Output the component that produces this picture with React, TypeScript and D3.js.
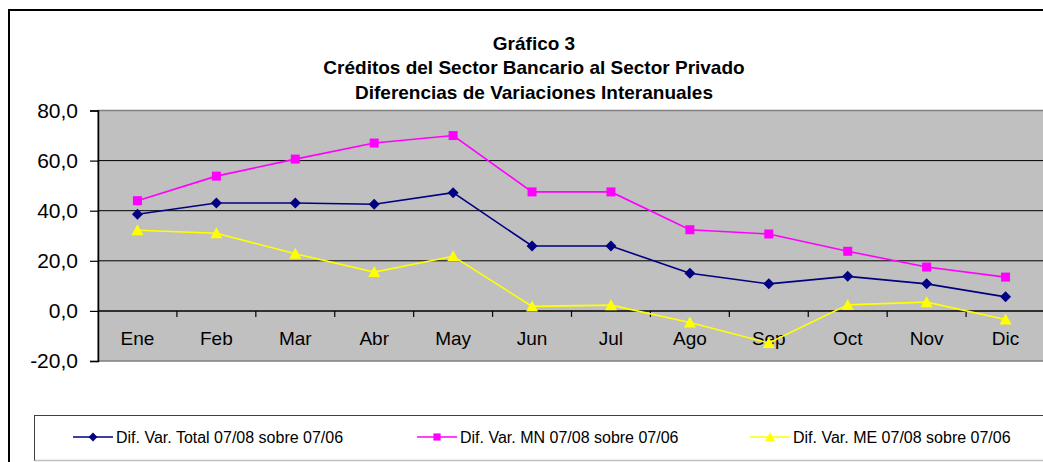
import { useRef, useEffect } from 'react';
import * as d3 from 'd3';

const months = ['Ene', 'Feb', 'Mar', 'Abr', 'May', 'Jun', 'Jul', 'Ago', 'Sep', 'Oct', 'Nov', 'Dic'];
const totalVals = [38.6, 43.1, 43.1, 42.6, 47.2, 25.9, 25.9, 15.0, 10.8, 13.8, 10.8, 5.6];
const mnVals = [44.0, 53.8, 60.6, 67.0, 70.0, 47.5, 47.5, 32.4, 30.7, 23.8, 17.5, 13.5];
const meVals = [32.2, 31.0, 22.8, 15.5, 21.8, 1.8, 2.3, -4.6, -12.8, 2.4, 3.5, -3.4];
const yTicks = [-20, 0, 20, 40, 60, 80];
const titleLines = [
    'Gráfico 3',
    'Créditos del Sector Bancario al Sector Privado',
    'Diferencias de Variaciones Interanuales',
];

const seriesList = [
    { name: 'Dif. Var. Total 07/08 sobre 07/06', values: totalVals, color: '#000080', marker: 'diamond' },
    { name: 'Dif. Var. MN 07/08 sobre 07/06', values: mnVals, color: '#FF00FF', marker: 'square' },
    { name: 'Dif. Var. ME 07/08 sobre 07/06', values: meVals, color: '#FFFF00', marker: 'triangle' },
];

const FONT = '"Liberation Sans", Arial, sans-serif';

function markerPath(kind: string): string {
    if (kind === 'diamond') return 'M0,-5.5L5.5,0L0,5.5L-5.5,0Z';
    if (kind === 'square') return 'M-4.5,-4.5H4.5V4.5H-4.5Z';
    return 'M0,-6L6,5H-6Z';
}

export default function App() {
    const svgRef = useRef<SVGSVGElement>(null);

    useEffect(() => {
        if (!svgRef.current) return;
        const width = 1043;
        const height = 462;
        const svg = d3.select(svgRef.current);
        svg.selectAll('*').remove();
        svg.attr('width', width).attr('height', height);

        const left = 98, right = 1045, top = 110.5, bottom = 361;

        const x = d3.scaleBand<string>().domain(months).range([left, right]).padding(0);
        const y = d3.scaleLinear().domain([-20, 80]).range([bottom, top]);
        const cx = (m: string) => (x(m) ?? 0) + x.bandwidth() / 2;

        svg.append('rect').attr('width', width).attr('height', height).attr('fill', 'white');

        // outer chart frame
        svg.append('path')
            .attr('d', `M9,${height + 5}V10H${width + 5}`)
            .attr('fill', 'none')
            .attr('stroke', '#000')
            .attr('stroke-width', 2);

        // titles
        svg.append('g').selectAll('text')
            .data(titleLines)
            .enter()
            .append('text')
            .attr('x', 534)
            .attr('y', (_d, i) => 49.5 + i * 24.5)
            .attr('text-anchor', 'middle')
            .attr('font-family', FONT)
            .attr('font-size', '19px')
            .attr('font-weight', 700)
            .text(d => d);

        // plot area
        svg.append('rect')
            .attr('x', left).attr('y', top)
            .attr('width', right - left).attr('height', bottom - top)
            .attr('fill', '#C0C0C0')
            .attr('stroke', '#808080')
            .attr('stroke-width', 1.5);

        // gridlines
        svg.append('g').selectAll('line')
            .data(yTicks.filter(t => t > 0 && t < 80))
            .enter()
            .append('line')
            .attr('x1', left).attr('x2', right)
            .attr('y1', d => y(d)).attr('y2', d => y(d))
            .attr('stroke', '#000')
            .attr('stroke-width', 1);

        // y axis
        const yAxis = d3.axisLeft(y)
            .tickValues(yTicks)
            .tickSize(8)
            .tickPadding(12)
            .tickFormat(d => d3.format('.1f')(d as number).replace('.', ',').replace('−', '-'));
        const ya = svg.append('g').attr('transform', `translate(${left},0)`).call(yAxis);
        ya.select('.domain').attr('stroke', '#000').attr('stroke-width', 1.5);
        ya.selectAll('.tick line').attr('stroke', '#000').attr('stroke-width', 1.2);
        ya.selectAll('.tick text')
            .attr('font-family', FONT)
            .attr('font-size', '21px')
            .attr('fill', '#000');

        // x axis along zero line
        const y0 = y(0);
        svg.append('line')
            .attr('x1', left).attr('x2', right)
            .attr('y1', y0).attr('y2', y0)
            .attr('stroke', '#000')
            .attr('stroke-width', 1.5);
        svg.append('g').selectAll('line')
            .data(months.slice(1))
            .enter()
            .append('line')
            .attr('x1', d => x(d) ?? 0).attr('x2', d => x(d) ?? 0)
            .attr('y1', y0).attr('y2', y0 + 6)
            .attr('stroke', '#000')
            .attr('stroke-width', 1.2);
        svg.append('g').selectAll('text')
            .data(months)
            .enter()
            .append('text')
            .attr('x', d => cx(d))
            .attr('y', 345)
            .attr('text-anchor', 'middle')
            .attr('font-family', FONT)
            .attr('font-size', '19px')
            .text(d => d);

        // series
        const line = d3.line<number>()
            .x((_d, i) => cx(months[i]))
            .y(d => y(d));

        seriesList.forEach(s => {
            const g = svg.append('g');
            g.append('path')
                .datum(s.values)
                .attr('d', line)
                .attr('fill', 'none')
                .attr('stroke', s.color)
                .attr('stroke-width', 1.6);
            g.selectAll('path.m')
                .data(s.values)
                .enter()
                .append('path')
                .attr('class', 'm')
                .attr('d', markerPath(s.marker))
                .attr('transform', (d, i) => `translate(${cx(months[i])},${y(d)})`)
                .attr('fill', s.color);
        });

        // legend
        svg.append('rect')
            .attr('x', 34.5).attr('y', 415.5)
            .attr('width', width + 20).attr('height', 45)
            .attr('fill', 'white')
            .attr('stroke', '#404040')
            .attr('stroke-width', 1);
        svg.append('line')
            .attr('x1', 34.5).attr('x2', width + 20)
            .attr('y1', 460.5).attr('y2', 460.5)
            .attr('stroke', '#c0c0c0')
            .attr('stroke-width', 1.5);

        const legendX = [73, 417, 750];
        seriesList.forEach((s, i) => {
            const lx = legendX[i];
            const ly = 437;
            svg.append('line')
                .attr('x1', lx).attr('x2', lx + 40)
                .attr('y1', ly).attr('y2', ly)
                .attr('stroke', s.color)
                .attr('stroke-width', 1.6);
            svg.append('path')
                .attr('d', markerPath(s.marker))
                .attr('transform', `translate(${lx + 20},${ly}) scale(0.8)`)
                .attr('fill', s.color);
            svg.append('text')
                .attr('x', lx + 43)
                .attr('y', ly + 5.5)
                .attr('font-family', FONT)
                .attr('font-size', '16px')
                .text(s.name);
        });
    }, []);

    return (
        <svg ref={svgRef} style={{ position: 'absolute', left: 0, top: 0, display: 'block' }} />
    );
}
